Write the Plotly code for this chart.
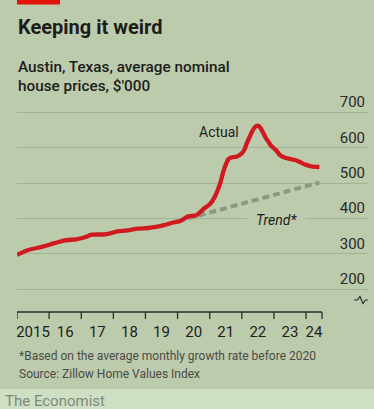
import plotly.graph_objects as go
import pandas as pd

# ---- data ----
actual_dates = ["2015-01", "2015-05", "2015-11", "2016-03", "2016-07", "2016-11", "2017-02",
                "2017-05", "2017-10", "2018-03", "2018-07", "2018-10", "2019-02", "2019-05",
                "2019-08", "2019-11", "2020-02", "2020-05", "2020-08", "2020-11", "2021-01",
                "2021-03", "2021-04", "2021-05", "2021-06", "2021-07", "2021-08", "2021-09",
                "2021-11", "2022-01", "2022-02", "2022-03", "2022-04", "2022-05", "2022-06",
                "2022-07", "2022-08", "2022-09", "2022-10", "2022-11", "2022-12", "2023-02",
                "2023-03", "2023-05", "2023-07", "2023-09", "2023-11", "2024-01", "2024-03",
                "2024-06"]
actual_values = [297, 310, 321, 330, 338, 341, 346,
                 354, 355, 364, 367, 371, 373, 376,
                 381, 388, 393, 406, 409, 429, 440,
                 462, 480, 500, 530, 552, 568, 573,
                 575, 585, 596, 615, 632, 648, 660,
                 663, 657, 643, 628, 617, 606, 592,
                 582, 573, 569, 566, 559, 552, 548,
                 546]
trend_dates = ["2020-01", "2024-06"]
trend_values = [392, 502]
year_ticks = [2015, 2016, 2017, 2018, 2019, 2020, 2021, 2022, 2023, 2024]
year_labels = ["2015", "16", "17", "18", "19", "20", "21", "22", "23", "24"]
y_ticks = [200, 300, 400, 500, 600, 700]

# ---- style / layout frame ----
W, H = 374, 409
L, R, T, B = 17, 368, 92, 312
BG = "#bdcbad"
BAND = "#cfdfc4"
RED = "#cf1a20"
GRID = "#a2b295"
TREND = "#899983"
TEXT = "#1d1d1b"
Y0, Y1 = 134.8, 758.7
X_END = "2025-12-06"
FONT = "Roboto"

def px(x):
    return (x - L) / (R - L)

def py(y):
    return (B - y) / (B - T)

fig = go.Figure()
fig.add_trace(go.Scatter(x=trend_dates, y=trend_values, mode="lines",
                         line=dict(color=TREND, width=4, dash="7px,4px"),
                         hoverinfo="skip", showlegend=False))
fig.add_trace(go.Scatter(x=actual_dates, y=actual_values, mode="lines",
                         line=dict(color=RED, width=4.3, shape="spline", smoothing=0.6),
                         showlegend=False))

# x-axis boundaries and label positions
bounds = [pd.Timestamp(f"{y}-01-01") for y in year_ticks]
axis_end = pd.Timestamp(actual_dates[-1]) + pd.DateOffset(months=1)
edges = bounds + [axis_end]
label_pos = [edges[i] + (edges[i + 1] - edges[i]) / 2 for i in range(len(year_ticks))]

shapes = []
# red tag (top left)
shapes.append(dict(type="rect", xref="paper", yref="paper", x0=px(17), x1=px(60),
                   y0=py(4.5), y1=py(0), fillcolor="#e3120b", line=dict(width=0)))
shapes.append(dict(type="line", xref="x", yref="paper", x0=edges[0], x1=edges[-1],
                   y0=0, y1=0, line=dict(color="#2b2b2b", width=1.3)))
for e in edges:
    shapes.append(dict(type="line", xref="x", yref="paper", x0=e, x1=e,
                       y0=0, y1=-7 / (B - T), line=dict(color="#2b2b2b", width=1.3)))
# bottom band
shapes.append(dict(type="rect", xref="paper", yref="paper", x0=px(-5), x1=px(380),
                   y0=py(412), y1=py(389), fillcolor=BAND, line=dict(width=0), layer="below"))
# axis break symbol
pts = [(354, 300), (357.5, 300), (360, 296.5), (363, 303.5), (365.5, 300), (368, 300)]
path = "M " + " L ".join(f"{px(a):.4f},{py(b):.4f}" for a, b in pts)
shapes.append(dict(type="path", xref="paper", yref="paper", path=path,
                   line=dict(color="#2b2b2b", width=1.2)))

def note(text, x, y, size, color, weight=400, xanchor="left"):
    return dict(text=text, x=px(x), y=py(y), xanchor=xanchor, yanchor="middle",
                xref="paper", yref="paper", showarrow=False, align="left",
                font=dict(family=FONT, size=size, color=color, weight=weight))

ann = [
    note("Keeping it weird", 16, 27, 20, TEXT, 700),
    note("Austin, Texas, average nominal", 16, 67, 15.3, TEXT, 500),
    note("house prices, $'000", 16, 85.5, 15.3, TEXT, 500),
    note("*Based on the average monthly growth rate before 2020", 17, 356, 12, "#4a4a48"),
    note("Source: Zillow Home Values Index", 17, 373.5, 12, "#4a4a48"),
    note("The Economist", 3, 401, 15, "#7d8a7a"),
]
ann.append(dict(text="Actual", x="2021-04-15", y=646, xref="x", yref="y", showarrow=False,
                font=dict(family=FONT, size=14, color=TEXT)))
ann.append(dict(text="<i>Trend*</i>", x="2023-01-25", y=397, xref="x", yref="y", showarrow=False,
                font=dict(family=FONT, size=14, color=TEXT), bgcolor=BG, borderpad=8))

fig.update_layout(
    width=W, height=H,
    margin=dict(l=L, r=W - R, t=T, b=H - B, pad=0),
    paper_bgcolor=BG, plot_bgcolor=BG,
    shapes=shapes, annotations=ann,
    xaxis=dict(type="date", range=["2015-01-01", X_END], showgrid=False, zeroline=False,
               showline=False, tickmode="array", tickvals=label_pos, ticktext=year_labels,
               ticks="outside", ticklen=6, tickcolor="rgba(0,0,0,0)",
               tickfont=dict(family=FONT, size=15, color=TEXT), fixedrange=True),
    yaxis=dict(range=[Y0, Y1], side="right", tickmode="array", tickvals=y_ticks,
               ticklabelposition="inside top", showgrid=True, gridcolor=GRID, gridwidth=1,
               zeroline=False, showline=False, ticks="",
               tickfont=dict(family=FONT, size=15, color="#2a2a28"), fixedrange=True),
    showlegend=False,
)
fig.write_html("out.html", config={"displayModeBar": False},
               post_script="document.body.style.margin='0';document.body.style.background='" + BG + "';")
